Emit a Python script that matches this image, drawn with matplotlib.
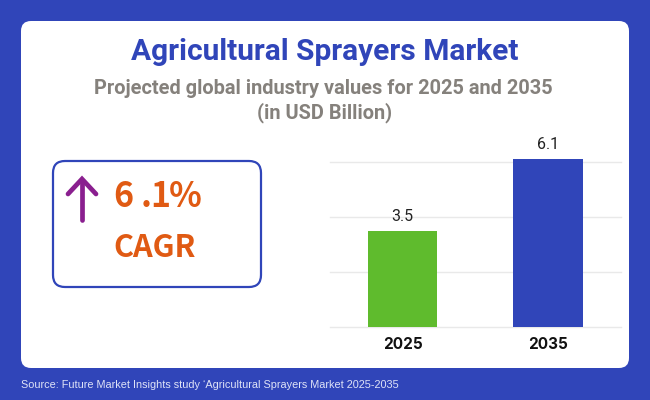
"""Agricultural sprayers market card."""

import matplotlib
matplotlib.use("Agg")
import matplotlib.pyplot as plt
from matplotlib.patches import FancyBboxPatch

W, H = 650, 400

BLUE = "#3045b9"
GREEN = "#5fbb2d"
ORANGE = "#e05a13"
PURPLE = "#8a1f8f"

years = ["2025", "2035"]
values = [3.5, 6.1]
bar_colors = [GREEN, BLUE]
y_ticks = [0, 2, 4, 6]

fig = plt.figure(figsize=(W / 100, H / 100), dpi=100, facecolor=BLUE)

# full-figure overlay in pixel coordinates (y down) for the card furniture
bg = fig.add_axes([0, 0, 1, 1])
bg.set_xlim(0, W)
bg.set_ylim(H, 0)
bg.axis("off")

bg.add_patch(FancyBboxPatch((21 + 10, 21 + 10), 608 - 20, 347 - 20,
                            boxstyle="round,pad=10,rounding_size=10",
                            fc="white", ec="none"))
bg.add_patch(FancyBboxPatch((53 + 12, 161 + 12), 208 - 24, 126 - 24,
                            boxstyle="round,pad=12,rounding_size=12",
                            fc="white", ec=BLUE, lw=1.6))

bg.text(325, 52, "Agricultural Sprayers Market", color=BLUE, fontsize=21.5,
        fontweight="bold", family="Roboto", ha="center", va="center")
bg.text(323, 88, "Projected global industry values for 2025 and 2035", color="#85817c",
        fontsize=14.45, fontweight="bold", family="Roboto", ha="center", va="center")
bg.text(325, 113, "(in USD Billion)", color="#85817c",
        fontsize=14.45, fontweight="bold", family="Roboto", ha="center", va="center")

# arrow
bg.plot([82, 82], [220, 181], color=PURPLE, lw=3.4, solid_capstyle="round")
bg.plot([68, 82, 96], [194, 179, 194], color=PURPLE, lw=3.4,
        solid_capstyle="round", solid_joinstyle="miter")

# the reference tracks this one out, so place it glyph by glyph
for ch, px in zip("6.1%", [113, 141, 150, 169]):
    bg.text(px, 207, ch, color=ORANGE, fontsize=24.5, fontweight="heavy",
            family="Noto Sans CJK SC", ha="left", va="baseline")
bg.text(113, 248, "CAGR", color=ORANGE, fontsize=22.1, fontweight="heavy",
        family="Noto Sans CJK SC", ha="left", va="center")

bg.text(21, 385.5, "Source: Future Market Insights study \u2018Agricultural Sprayers Market 2025-2035",
        color="#dfe3f7", fontsize=7.87, family="Liberation Sans", ha="left", va="center")

# bar chart
ax = fig.add_axes([330 / W, 1 - 327 / H, 290.5 / W, 165 / H])
ax.patch.set_alpha(0)
ax.set_xlim(-0.5, 1.5)
ax.set_ylim(0, 6)

x = list(range(len(years)))
bars = ax.bar(x, values, width=0.48, color=bar_colors, zorder=3, clip_on=False)
for rect, val in zip(bars, values):
    ax.annotate(f"{val}", (rect.get_x() + rect.get_width() / 2, val), xytext=(0, 5),
                textcoords="offset points", ha="center", va="bottom",
                fontsize=11.5, family="Roboto", color="#222222", annotation_clip=False)

ax.set_yticks(y_ticks)
ax.set_xticks(x, years)
ax.tick_params(axis="both", length=0)
ax.tick_params(axis="y", labelleft=False)
ax.tick_params(axis="x", pad=7)
for lab in ax.get_xticklabels():
    lab.set_fontsize(11)
    lab.set_fontweight("bold")
    lab.set_family("Inter")
    lab.set_color("#111111")
ax.grid(True, axis="y", color="#e9e9e9", lw=1, clip_on=False)
ax.set_axisbelow(True)
for s in ax.spines.values():
    s.set_visible(False)

fig.savefig("out.png", dpi=100, facecolor=BLUE)
plt.close(fig)
